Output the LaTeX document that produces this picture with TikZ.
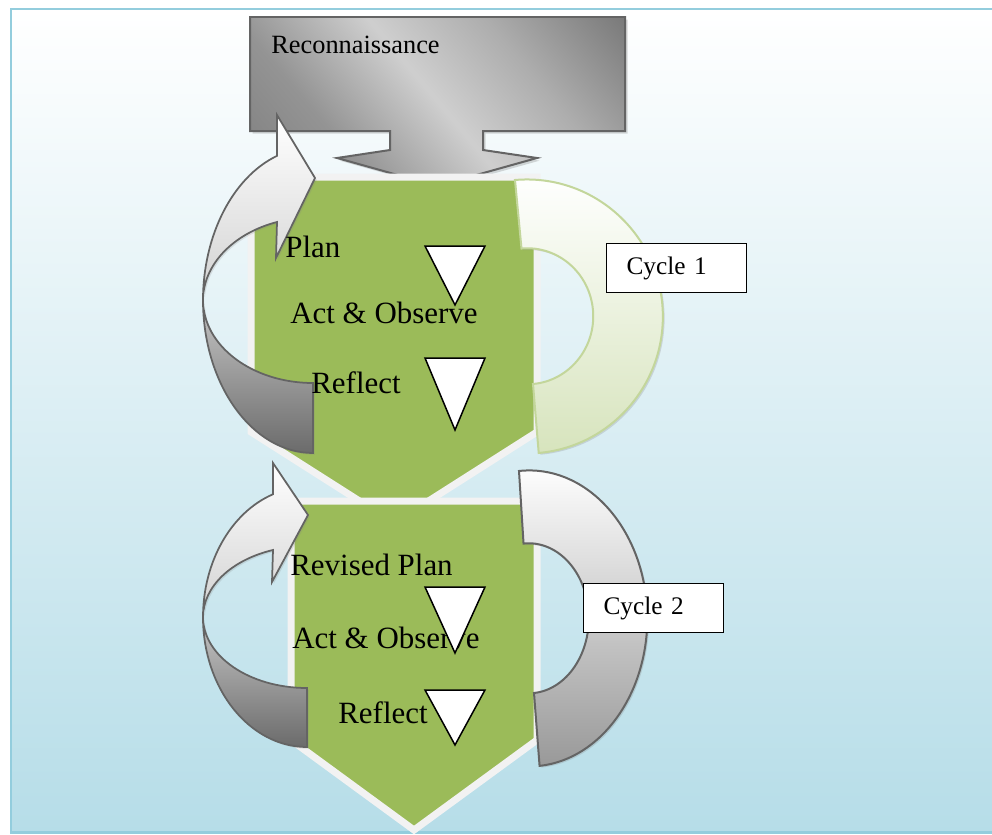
\documentclass[tikz,border=0pt]{standalone}
\usepackage{fontspec}
\setmainfont{Liberation Serif}
\usepackage{tikz}
\usetikzlibrary{shadows}

\definecolor{frameblue}{HTML}{93CDDD}
\definecolor{skyblue}{HTML}{B6DDE8}
\definecolor{stepgreen}{HTML}{9BBB59}
\definecolor{palegreen}{HTML}{D7E4BD}
\definecolor{limeline}{HTML}{C3D69B}
\definecolor{greyline}{HTML}{646464}

\pgfdeclareverticalshading{reconshade}{100bp}{color(0bp)=(black!58); color(32bp)=(black!42);
    color(50bp)=(black!19); color(66bp)=(black!32); color(100bp)=(black!68)}

\begin{document}
\begin{tikzpicture}[x=0.02cm, y=-0.02cm,
    stage/.style={fill=stepgreen, draw=black!5, line width=0.14cm,
        drop shadow={opacity=0.3, shadow xshift=1pt, shadow yshift=-1pt}},
    frontarrow/.style={draw=greyline, line width=0.035cm, top color=white, bottom color=black!18,
        drop shadow={opacity=0.2, shadow xshift=1pt, shadow yshift=-1pt}},
    backarrow/.style={draw=greyline, line width=0.035cm, top color=black!22, bottom color=black!58,
        drop shadow={opacity=0.2, shadow xshift=1pt, shadow yshift=-1pt}},
    steptext/.style={anchor=base west, inner sep=0pt, font=\fontsize{17.6}{21}\selectfont},
    downtri/.style={draw=black, fill=white, line width=0.03cm, line join=miter},
    cyclebox/.style={draw=black, fill=white, line width=0.025cm, anchor=north west,
        minimum width=2.8cm, minimum height=0.98cm, text width=2cm, inner xsep=0.4cm,
        align=left, font=\fontsize{14.4}{17}\selectfont}]
    \useasboundingbox (0,0) rectangle (992,835);
    \path[draw=frameblue, line width=0.06cm, top color=white, bottom color=skyblue]
        (11,9) rectangle (1010,832);

    % Reconnaissance
    \path[draw=greyline, line width=0.04cm, shading=reconshade, shading angle=-50,
        drop shadow={opacity=0.3, shadow xshift=1.5pt, shadow yshift=-1.5pt}]
        (250,17) -- (625,17) -- (625,131) -- (483,131) -- (483,150) -- (537,158)
        -- (437,186) -- (337,158) -- (390,150) -- (390,131) -- (250,131) -- cycle;
    \node[anchor=base west, inner sep=0pt, font=\fontsize{15}{18}\selectfont] (recon) at (271,53) {Reconnaissance};

    % Steps
    \draw[stage] (251,177) -- (537,177) -- (537,432) -- (394,523) -- (251,432) -- cycle;
    \draw[stage] (291,501) -- (537,501) -- (537,740) -- (414,830) -- (291,740) -- cycle;

    % Cycle arcs
    \draw[draw=limeline, line width=0.04cm, top color=white, bottom color=palegreen,
        drop shadow={opacity=0.25, shadow xshift=1pt, shadow yshift=-1pt}]
        (515,180) arc[start angle=-95, end angle=85, x radius=136, y radius=137]
        -- (533,384) arc[start angle=85, end angle=-95, x radius=66, y radius=68] -- cycle;
    \draw[draw=greyline, line width=0.04cm, top color=white, bottom color=black!40,
        drop shadow={opacity=0.25, shadow xshift=1pt, shadow yshift=-1pt}]
        (519,471) arc[start angle=-95, end angle=85, x radius=118, y radius=148]
        -- (534,693) arc[start angle=85, end angle=-95, x radius=60, y radius=75] -- cycle;

    % Loops back
    \draw[backarrow] (313,453) arc[start angle=90, end angle=180, x radius=110, y radius=153]
        arc[start angle=180, end angle=90, x radius=110, y radius=83] -- cycle;
    \draw[frontarrow] (277,155) -- (277,115) -- (315,178) -- (276,258) -- (277,222)
        arc[start angle=250.9, end angle=180, x radius=110, y radius=83]
        arc[start angle=180, end angle=250.9, x radius=110, y radius=153] -- cycle;
    \draw[backarrow] (307,747) arc[start angle=90, end angle=180, x radius=104, y radius=130]
        arc[start angle=180, end angle=90, x radius=104, y radius=71] -- cycle;
    \draw[frontarrow] (273,494) -- (273,463) -- (308,515) -- (272,582) -- (273,550)
        arc[start angle=250.9, end angle=180, x radius=104, y radius=71]
        arc[start angle=180, end angle=250.9, x radius=104, y radius=130] -- cycle;

    % Step texts
    \node[steptext] (plan1) at (285,257) {Plan};
    \node[steptext] (act1) at (290,323) {Act \& Observe};
    \node[steptext] (refl1) at (311,393) {Reflect};
    \node[steptext] (plan2) at (290,575) {Revised Plan};
    \node[steptext] (act2) at (292,648) {Act \& Observe};
    \node[steptext] (refl2) at (338,723) {Reflect};

    \foreach \ya/\yb in {246/305, 358/430, 587/653, 690/745}
        \draw[downtri] (425,\ya) -- (485,\ya) -- (455,\yb) -- cycle;

    % Labels
    \node[cyclebox] (cyc1) at (606,243) {Cycle 1};
    \node[cyclebox] (cyc2) at (583,583) {Cycle 2};
\end{tikzpicture}
\end{document}
